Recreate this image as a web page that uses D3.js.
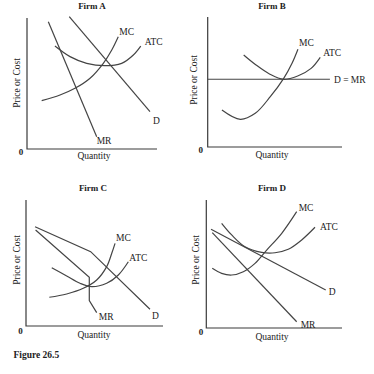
<!DOCTYPE html>
<html><head><meta charset="utf-8">
<script src="https://cdn.jsdelivr.net/npm/d3@7"></script>
<style>body{margin:0;background:#fff}svg{display:block}text{font-family:"Liberation Serif","DejaVu Serif",serif;fill:#222}</style>
</head><body>
<script>
// ---- Data (axis units 0..10 in each panel) ----
const firmTitles = ["Firm A","Firm B","Firm C","Firm D"];
const axisLabelY = "Price or Cost";
const axisLabelX = "Quantity";
const figureLabel = "Figure 26.5";

const firmA_D   = [[3.25,10.1],[9.46,2.85]];
const firmA_MR  = [[1.64,9.72],[5.36,0.94]];
const firmA_MC  = [[1.13,3.69],[2.54,4.12],[3.69,4.63],[4.85,5.40],[5.87,6.54],[6.52,7.56],[7.02,8.57]];
const firmA_ATC = [[2.15,7.86],[3.31,7.05],[4.59,6.54],[6.0,6.36],[7.28,6.54],[8.18,7.18],[8.75,7.86]];

const firmB_DMR = [[0,5.21],[9.1,5.21]];
const firmB_MC  = [[1.06,2.85],[2.43,2.13],[3.54,2.59],[4.66,3.87],[5.66,5.28],[6.28,6.44],[6.72,7.52]];
const firmB_ATC = [[2.68,7.08],[3.6,6.31],[4.6,5.62],[5.65,5.21],[6.7,5.46],[7.7,6.05],[8.38,6.9]];

const firmC_D   = [[0.66,7.88],[4.72,5.90],[9.05,1.33]];
const firmC_MR  = [[0.7,7.62],[4.62,3.87],[4.62,2.01],[5.16,1.06]];
const firmC_MC  = [[1.7,2.28],[2.97,2.54],[4.18,2.99],[5.16,3.65],[5.89,4.71],[6.26,5.77],[6.5,6.56]];
const firmC_ATC = [[1.88,4.63],[2.97,3.97],[3.94,3.39],[4.8,3.12],[5.89,3.39],[6.74,4.05],[7.47,5.1]];

const firmD_D   = [[0.35,7.71],[8.8,2.97]];
const firmD_MR  = [[0.44,7.45],[6.66,0.49]];
const firmD_MC  = [[0.44,4.66],[1.13,4.27],[1.87,4.14],[2.73,4.4],[3.59,5.05],[4.45,6.09],[5.56,7.4],[6.66,9.09]];
const firmD_ATC = [[1.13,8.18],[1.87,7.27],[2.85,6.35],[4.08,5.91],[5.06,5.88],[6.04,6.15],[7.03,6.88],[8.01,7.87]];

// ---- Layout ----
const W = 374, H = 374;
const frames = [
  {x0:27,  x1:157, yb:149, yt:18,  title:[92,9],     yl:[17.5,83],  xl:[94,159],  zero:[21,155]},
  {x0:207.7,x1:342,yb:147, yt:17,  title:[272,9],    yl:[194.5,80], xl:[272,158], zero:[200.7,153]},
  {x0:26,  x1:163, yb:326, yt:200, title:[93,190.5], yl:[17.5,260], xl:[94,338],  zero:[20.5,334]},
  {x0:206.3,x1:342,yb:328, yt:200, title:[272,191],  yl:[197,260],  xl:[272,340], zero:[201,335]}
];
const curves = [
  [{d:firmA_MC,c:true,lab:"MC",dx:1,dy:-2},{d:firmA_ATC,c:true,lab:"ATC",dx:4,dy:-1},
   {d:firmA_D,lab:"D",dx:3,dy:12},{d:firmA_MR,lab:"MR",dx:0,dy:7}],
  [{d:firmB_MC,c:true,lab:"MC",dx:1,dy:-3},{d:firmB_ATC,c:true,lab:"ATC",dx:3,dy:-1},
   {d:firmB_DMR,lab:"D = MR",dx:4,dy:3.5}],
  [{d:firmC_MC,c:true,lab:"MC",dx:1,dy:-2},{d:firmC_ATC,c:true,lab:"ATC",dx:1,dy:-1},
   {d:firmC_D,lab:"D",dx:2,dy:10},{d:firmC_MR,lab:"MR",dx:2,dy:7}],
  [{d:firmD_MC,c:true,lab:"MC",dx:2,dy:-1},{d:firmD_ATC,c:true,lab:"ATC",dx:5,dy:3},
   {d:firmD_D,lab:"D",dx:3,dy:5},{d:firmD_MR,lab:"MR",dx:4,dy:6}]
];

const svg = d3.select("body").append("svg").attr("width",W).attr("height",H);
svg.append("rect").attr("width",W).attr("height",H).attr("fill","#fff");

frames.forEach((f,i)=>{
  const x = d3.scaleLinear().domain([0,10]).range([f.x0,f.x1]);
  const y = d3.scaleLinear().domain([0,10]).range([f.yb,f.yt]);
  const g = svg.append("g");
  g.append("path").attr("d",`M${x(0)},${y(10)}V${y(0)}H${x(10)}`)
    .attr("fill","none").attr("stroke","#3a3a3a").attr("stroke-width",1.2);
  g.append("text").attr("x",f.title[0]).attr("y",f.title[1]).attr("text-anchor","middle")
    .attr("font-size",9).attr("font-weight","bold").text(firmTitles[i]);
  g.append("text").attr("transform",`translate(${f.yl[0]},${f.yl[1]}) rotate(-90)`)
    .attr("text-anchor","middle").attr("dominant-baseline","middle").attr("font-size",9.5).text(axisLabelY);
  g.append("text").attr("x",f.xl[0]).attr("y",f.xl[1]).attr("text-anchor","middle")
    .attr("font-size",9.5).text(axisLabelX);
  g.append("text").attr("x",f.zero[0]).attr("y",f.zero[1]).attr("text-anchor","middle")
    .attr("font-size",9).attr("font-weight","bold").text("0");
  curves[i].forEach(cv=>{
    const line = d3.line().x(d=>x(d[0])).y(d=>y(d[1]))
      .curve(cv.c ? d3.curveCatmullRom : d3.curveLinear);
    g.append("path").attr("d",line(cv.d)).attr("fill","none")
      .attr("stroke","#444").attr("stroke-width",1.2);
    const last = cv.d[cv.d.length-1];
    g.append("text").attr("x",x(last[0])+cv.dx).attr("y",y(last[1])+cv.dy)
      .attr("font-size",9.5).text(cv.lab);
  });
});
svg.append("text").attr("x",13.5).attr("y",358).attr("font-size",9.5)
  .attr("font-weight","bold").text(figureLabel);
</script>
</body></html>
